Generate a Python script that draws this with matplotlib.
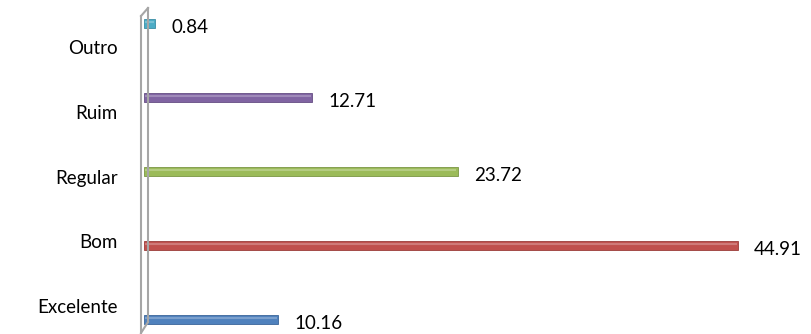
import matplotlib.pyplot as plt
from matplotlib.lines import Line2D

categories = ['Excelente', 'Bom', 'Regular', 'Ruim', 'Outro']
values = [10.16, 44.91, 23.72, 12.71, 0.84]
colors = ['#4F81BD', '#C0504D', '#9BBB59', '#8064A2', '#4BACC6']
edges = ['#3A659A', '#9A3C39', '#7A9644', '#654D83', '#3A8DA4']

plt.rcParams['font.family'] = ['Lato', 'DejaVu Sans']

W, H = 812, 334
fig = plt.figure(figsize=(W / 100, H / 100), dpi=100)
ax = fig.add_axes([144 / W, 0, 668 / W, 1])

pos = list(range(len(categories)))
ax.barh(pos, values, height=0.12, color=colors, edgecolor=edges, linewidth=0.6)
# thin highlight on top of each bar, gives the tube look
for p, v in zip(pos, values):
    ax.plot([0.1, v - 0.1], [p + 0.02, p + 0.02], color='white', alpha=0.25, lw=1.5,
            solid_capstyle='butt')
    ax.annotate(f'{v:.2f}', (v, p), xytext=(11.5, -2.5), textcoords='offset points',
                ha='left', va='center', fontsize=13.5)

ax.set_xlim(0, 50.5)
ax.set_ylim(-0.19, 4.32)

# category labels sit on the front plane, not at the bar centres
ax.set_yticks([0.19 + 0.873 * p for p in pos])
ax.set_yticklabels(categories, fontsize=13.5)
ax.tick_params(axis='y', length=0, pad=19)
ax.set_xticks([])
for s in ax.spines.values():
    s.set_visible(False)

# the 3D side wall
def px(x, y):
    return x / W, 1 - y / H

g = '#A6A6A6'
for (x0, y0), (x1, y1) in [((141, 16), (141, 333)), ((148, 8), (148, 322)),
                           ((141, 16), (148, 8)), ((141, 333), (148, 322))]:
    a, b = px(x0, y0)
    c, d = px(x1, y1)
    fig.add_artist(Line2D([a, c], [b, d], color=g, lw=1.5))

fig.savefig('out.png', dpi=100)
